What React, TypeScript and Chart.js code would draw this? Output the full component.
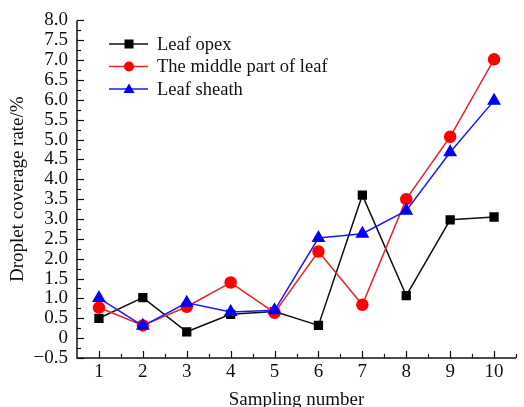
import React, { useEffect, useRef } from "react";
import { Chart, registerables } from "chart.js";

Chart.register(...registerables);

const samples = [1, 2, 3, 4, 5, 6, 7, 8, 9, 10];
const leafOpex = [0.5, 1.02, 0.16, 0.6, 0.67, 0.32, 3.6, 1.07, 2.98, 3.05];
const middlePart = [0.77, 0.32, 0.79, 1.4, 0.64, 2.18, 0.84, 3.5, 5.07, 7.02];
const leafSheath = [1.01, 0.31, 0.89, 0.66, 0.7, 2.52, 2.63, 3.21, 4.68, 5.98];
const yTicks = [-0.5, 0, 0.5, 1, 1.5, 2, 2.5, 3, 3.5, 4, 4.5, 5, 5.5, 6, 6.5, 7, 7.5, 8];
const seriesNames = ["Leaf opex", "The middle part of leaf", "Leaf sheath"];

const FONT = "'Liberation Serif', 'Times New Roman', serif";

const axesPlugin = {
  id: "axesPlugin",
  afterDatasetsDraw(chart: any) {
    const { ctx, chartArea } = chart;
    const xs = chart.scales.x;
    const ys = chart.scales.y;
    ctx.save();
    ctx.strokeStyle = "#111";
    ctx.lineWidth = 1.5;
    ctx.beginPath();
    ctx.moveTo(chartArea.left, chartArea.top);
    ctx.lineTo(chartArea.left, chartArea.bottom);
    ctx.lineTo(chartArea.right, chartArea.bottom);
    ctx.stroke();
    ctx.lineWidth = 1.2;
    for (let v = ys.min; v <= ys.max + 1e-6; v += 0.25) {
      const y = Math.round(ys.getPixelForValue(v)) + 0.5;
      const major = Math.abs(v * 2 - Math.round(v * 2)) < 1e-6;
      ctx.beginPath();
      ctx.moveTo(chartArea.left, y);
      ctx.lineTo(chartArea.left + (major ? 7 : 4), y);
      ctx.stroke();
    }
    for (let v = 1; v <= 10.5 + 1e-6; v += 0.5) {
      const x = Math.round(xs.getPixelForValue(v)) + 0.5;
      const major = Math.abs(v - Math.round(v)) < 1e-6;
      ctx.beginPath();
      ctx.moveTo(x, chartArea.bottom);
      ctx.lineTo(x, chartArea.bottom - (major ? 7 : 4));
      ctx.stroke();
    }
    ctx.restore();
  },
};

const legendPlugin = {
  id: "legendPlugin",
  afterDraw(chart: any) {
    const { ctx } = chart;
    ctx.save();
    chart.data.datasets.forEach((ds: any, i: number) => {
      const y = 44 + i * 22.5;
      ctx.strokeStyle = ds.borderColor;
      ctx.lineWidth = 1.5;
      ctx.beginPath();
      ctx.moveTo(109, y);
      ctx.lineTo(148, y);
      ctx.stroke();
      ctx.fillStyle = ds.pointBackgroundColor;
      const cx = 129;
      if (ds.pointStyle === "rect") {
        ctx.fillRect(cx - 4.5, y - 4.5, 9, 9);
      } else if (ds.pointStyle === "circle") {
        ctx.beginPath();
        ctx.arc(cx, y, 5, 0, Math.PI * 2);
        ctx.fill();
      } else {
        ctx.beginPath();
        ctx.moveTo(cx, y - 5.5);
        ctx.lineTo(cx + 5.5, y + 4);
        ctx.lineTo(cx - 5.5, y + 4);
        ctx.closePath();
        ctx.fill();
      }
      ctx.fillStyle = "#111";
      ctx.font = `18.5px ${FONT}`;
      ctx.textBaseline = "middle";
      ctx.textAlign = "left";
      ctx.fillText(ds.label, 157, y + 1);
    });
    ctx.restore();
  },
};

export default function App() {
  const ref = useRef<HTMLCanvasElement | null>(null);
  useEffect(() => {
    document.body.style.margin = "0";
    const mk = (vals: number[]) => samples.map((s, i) => ({ x: s, y: vals[i] }));
    const chart = new Chart(ref.current as HTMLCanvasElement, {
      type: "line",
      data: {
        datasets: [
          {
            label: seriesNames[0],
            data: mk(leafOpex),
            borderColor: "#111111",
            backgroundColor: "#111111",
            pointBackgroundColor: "#000000",
            pointBorderColor: "#000000",
            pointStyle: "rect",
            pointRadius: 5.5,
            borderWidth: 1.5,
            order: 3,
          },
          {
            label: seriesNames[1],
            data: mk(middlePart),
            borderColor: "#e8262a",
            backgroundColor: "#ff0000",
            pointBackgroundColor: "#ff0000",
            pointBorderColor: "#ff0000",
            pointStyle: "circle",
            pointRadius: 5.5,
            borderWidth: 1.5,
            order: 2,
          },
          {
            label: seriesNames[2],
            data: mk(leafSheath),
            borderColor: "#1a1aff",
            backgroundColor: "#0000ff",
            pointBackgroundColor: "#0000ff",
            pointBorderColor: "#0000ff",
            pointStyle: "triangle",
            pointRadius: 6.5,
            borderWidth: 1.5,
            order: 1,
          },
        ] as any,
      },
      options: {
        animation: false,
        responsive: false,
        layout: { padding: { top: 19, right: 2, left: 0, bottom: 0 } },
        plugins: { legend: { display: false }, tooltip: { enabled: false } },
        scales: {
          x: {
            type: "linear",
            min: 0.5,
            max: 10.5,
            afterBuildTicks: (s: any) => {
              s.ticks = samples.map((v) => ({ value: v }));
            },
            afterFit: (s: any) => {
              s.height = 49;
            },
            grid: { display: false, drawTicks: false },
            border: { display: false },
            ticks: {
              color: "#111",
              font: { family: FONT, size: 19 },
              padding: 3,
              maxRotation: 0,
              autoSkip: false,
              callback: (v: any) => String(v),
            },
            title: {
              display: true,
              text: "Sampling number",
              color: "#111",
              font: { family: FONT, size: 19 },
              padding: { top: 0, bottom: -4 },
            },
          },
          y: {
            type: "linear",
            min: -0.5,
            max: 8,
            afterBuildTicks: (s: any) => {
              s.ticks = yTicks.map((v) => ({ value: v }));
            },
            afterFit: (s: any) => {
              s.width = 77;
            },
            grid: { display: false, drawTicks: false },
            border: { display: false },
            ticks: {
              color: "#111",
              font: { family: FONT, size: 19 },
              padding: 9,
              autoSkip: false,
              callback: (v: any) => {
                const n = Number(v);
                if (n === 0) return "0";
                return (n < 0 ? "\u2212" : "") + Math.abs(n).toFixed(1);
              },
            },
            title: {
              display: true,
              text: "Droplet coverage rate/%",
              color: "#111",
              font: { family: FONT, size: 19 },
              padding: { top: 7, bottom: 0 },
            },
          },
        },
      },
      plugins: [axesPlugin, legendPlugin],
    });
    return () => chart.destroy();
  }, []);
  return (
    <div style={{ width: 524, height: 407 }}>
      <canvas ref={ref} width={524} height={407} style={{ display: "block" }} />
    </div>
  );
}
